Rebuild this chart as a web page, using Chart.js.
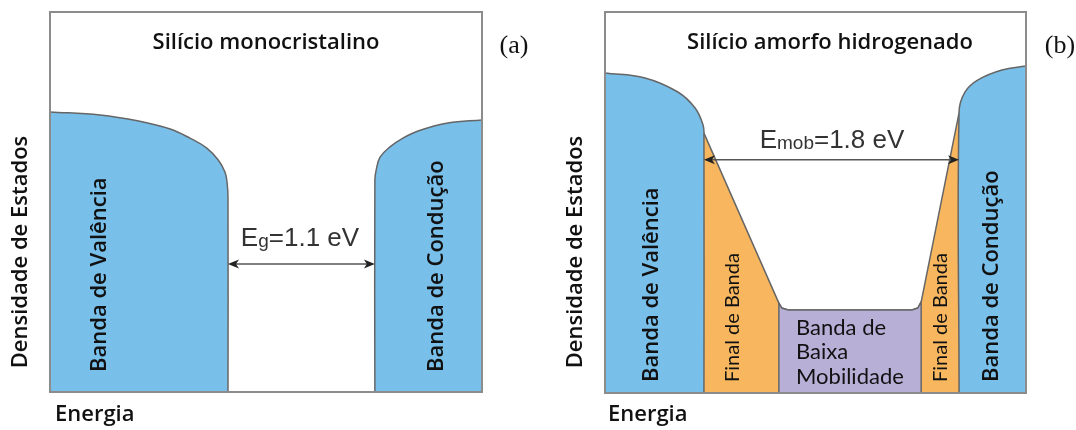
<!DOCTYPE html>
<html>
<head>
<meta charset="utf-8">
<script src="https://cdn.jsdelivr.net/npm/chart.js@4.4.1/dist/chart.umd.min.js"></script>
<style>
  body { margin: 0; background: #fff; }
  #wrap { position: relative; width: 1076px; height: 430px; }
  canvas { position: absolute; top: 0; }
</style>
</head>
<body>
<div id="wrap">
  <canvas id="chartA" width="540" height="430" style="left:0"></canvas>
  <canvas id="chartB" width="536" height="430" style="left:540px"></canvas>
</div>
<script>
// energy (x) and density of states (y), both on a 0-100 scale of the panel

// (a) monocrystalline silicon
const valenceA_x = [0, 11.6, 20.5, 27.8, 32.4, 36.3, 38.9, 40.5, 41.0, 41.2, 41.2];
const valenceA_y = [73.7, 72.9, 71.3, 69.2, 66.8, 64.2, 61.1, 57.9, 55.0, 51.3, 0];
const conductionA_x = [75.2, 75.2, 75.5, 76.4, 78.7, 81.7, 85.2, 92.1, 100];
const conductionA_y = [0, 55.8, 58.4, 61.8, 64.5, 66.8, 68.7, 70.8, 71.6];
const gapA = { from: 41.2, to: 75.2, level: 33.7, label: ['E', 'g', '=1.1 eV'] };

// (b) hydrogenated amorphous silicon
const valenceB_x = [0, 9.5, 17.3, 21.4, 23.3, 23.5, 23.5];
const valenceB_y = [84.0, 82.7, 79.0, 74.8, 70.3, 67.5, 0];
const tailB_x = [23.5, 41.3, 42.0, 43.5, 72.9, 74.3, 75.1, 84.1];
const tailB_y = [68.2, 23.6, 22.3, 21.8, 21.8, 22.3, 23.9, 73.5];
const lowMobB_x = [41.3, 41.3, 42.0, 43.5, 72.9, 74.3, 75.1, 75.1];
const lowMobB_y = [0, 23.6, 22.3, 21.8, 21.8, 22.3, 23.9, 0];
const conductionB_x = [84.1, 84.1, 85.5, 88.6, 94.3, 100];
const conductionB_y = [0, 73.8, 79.0, 82.2, 84.8, 85.8];
const gapB = { from: 23.5, to: 84.1, level: 61.2, label: ['E', 'mob', '=1.8 eV'] };

const BLUE = '#78bfea';
const ORANGE = '#f8b75e';
const PURPLE = '#b8afd7';
const EDGE = '#666';

function pts(xs, ys) {
  return xs.map((x, i) => ({ x: x, y: ys[i] }));
}

function band(xs, ys, color, order, tension) {
  return {
    data: pts(xs, ys),
    showLine: true,
    fill: 'origin',
    backgroundColor: color,
    borderColor: EDGE,
    borderWidth: 1.5,
    pointRadius: 0,
    tension: tension,
    order: order
  };
}

const decor = {
  id: 'decor',
  afterDatasetsDraw(chart, args, opts) {
    const ctx = chart.ctx;
    const a = chart.chartArea;
    const xs = chart.scales.x, ys = chart.scales.y;
    ctx.save();
    // frame
    ctx.strokeStyle = '#8c8c8c';
    ctx.lineWidth = 2;
    ctx.strokeRect(a.left, a.top, a.right - a.left, a.bottom - a.top);

    // gap arrow
    const g = opts.gap;
    const x1 = xs.getPixelForValue(g.from), x2 = xs.getPixelForValue(g.to);
    const y = ys.getPixelForValue(g.level);
    ctx.strokeStyle = '#555';
    ctx.lineWidth = 1.5;
    ctx.beginPath();
    ctx.moveTo(x1 + 4, y);
    ctx.lineTo(x2 - 4, y);
    ctx.stroke();
    ctx.fillStyle = '#222';
    [[x1, 1], [x2, -1]].forEach(([px, d]) => {
      ctx.beginPath();
      ctx.moveTo(px, y);
      ctx.lineTo(px + d * 11, y - 4.5);
      ctx.lineTo(px + d * 8, y);
      ctx.lineTo(px + d * 11, y + 4.5);
      ctx.closePath();
      ctx.fill();
    });

    // gap label with subscript
    const big = '26px "Liberation Sans", Arial, sans-serif';
    const small = '19px "Liberation Sans", Arial, sans-serif';
    ctx.font = big;
    const w0 = ctx.measureText(g.label[0]).width;
    const w2 = ctx.measureText(g.label[2]).width;
    ctx.font = small;
    const w1 = ctx.measureText(g.label[1]).width;
    let lx = opts.gapText.x - (w0 + w1 + w2) / 2;
    const ly = opts.gapText.y;
    ctx.fillStyle = '#333';
    ctx.textAlign = 'left';
    ctx.textBaseline = 'alphabetic';
    ctx.font = big;
    ctx.fillText(g.label[0], lx, ly);
    ctx.font = small;
    ctx.fillText(g.label[1], lx + w0, ly + 1);
    ctx.font = big;
    ctx.fillText(g.label[2], lx + w0 + w1, ly);

    // other texts
    opts.texts.forEach(t => {
      ctx.save();
      ctx.font = t.font;
      ctx.fillStyle = t.color || '#111';
      ctx.textAlign = t.align || 'center';
      ctx.textBaseline = 'middle';
      ctx.translate(t.x, t.y);
      if (t.rot) ctx.rotate(-Math.PI / 2);
      ctx.fillText(t.text, 0, 0);
      ctx.restore();
    });
    ctx.restore();
  }
};

const SANS = '"Open Sans", "Lato", sans-serif';
const LATO = '"Lato", "Open Sans", sans-serif';
const SERIF = '"Liberation Serif", "DejaVu Serif", serif';

function makeChart(id, datasets, padding, gap, gapText, texts) {
  return new Chart(document.getElementById(id), {
    type: 'scatter',
    data: { datasets: datasets },
    options: {
      responsive: false,
      animation: false,
      devicePixelRatio: 1,
      layout: { padding: padding },
      scales: {
        x: { type: 'linear', min: 0, max: 100, display: false },
        y: { type: 'linear', min: 0, max: 100, display: false }
      },
      plugins: {
        legend: { display: false },
        tooltip: { enabled: false },
        decor: { gap: gap, gapText: gapText, texts: texts }
      }
    },
    plugins: [decor]
  });
}

makeChart('chartA', [
  band(valenceA_x, valenceA_y, BLUE, 0, 0.4),
  band(conductionA_x, conductionA_y, BLUE, 0, 0.4)
], { left: 50, right: 58, top: 12, bottom: 38 }, gapA, { x: 300, y: 246 }, [
  { text: 'Silício monocristalino', x: 266, y: 43, font: '600 22px ' + SANS },
  { text: '(a)', x: 514, y: 46, font: '26px ' + SERIF },
  { text: 'Densidade de Estados', x: 21, y: 252, rot: true, font: '600 22px ' + SANS },
  { text: 'Energia', x: 55, y: 415, align: 'left', font: '600 22px ' + SANS },
  { text: 'Banda de Valência', x: 100, y: 372, rot: true, align: 'left', font: '600 22px ' + SANS },
  { text: 'Banda de Condução', x: 437, y: 372, rot: true, align: 'left', font: '600 22px ' + SANS }
]);

makeChart('chartB', [
  band(valenceB_x, valenceB_y, BLUE, 0, 0.4),
  band(conductionB_x, conductionB_y, BLUE, 0, 0.4),
  band(lowMobB_x, lowMobB_y, PURPLE, 1, 0),
  band(tailB_x, tailB_y, ORANGE, 2, 0)
], { left: 65, right: 50, top: 12, bottom: 37 }, gapB, { x: 292, y: 148 }, [
  { text: 'Silício amorfo hidrogenado', x: 290, y: 43, font: '600 22px ' + SANS },
  { text: '(b)', x: 520, y: 46, font: '26px ' + SERIF },
  { text: 'Densidade de Estados', x: 36, y: 252, rot: true, font: '600 22px ' + SANS },
  { text: 'Energia', x: 68, y: 415, align: 'left', font: '600 22px ' + SANS },
  { text: 'Banda de Valência', x: 112, y: 382, rot: true, align: 'left', font: '600 22px ' + SANS },
  { text: 'Final de Banda', x: 193, y: 382, rot: true, align: 'left', font: '20px ' + LATO },
  { text: 'Final de Banda', x: 401, y: 382, rot: true, align: 'left', font: '20px ' + LATO },
  { text: 'Banda de Condução', x: 452, y: 382, rot: true, align: 'left', font: '600 22px ' + SANS },
  { text: 'Banda de', x: 256, y: 328, align: 'left', font: '22px ' + LATO },
  { text: 'Baixa', x: 256, y: 352, align: 'left', font: '22px ' + LATO },
  { text: 'Mobilidade', x: 256, y: 377, align: 'left', font: '22px ' + LATO }
]);
</script>
</body>
</html>
